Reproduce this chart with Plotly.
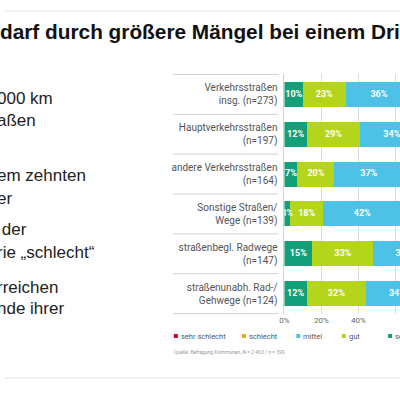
import plotly.graph_objects as go

# categories (top to bottom) as they appear on the slide
categories = ["Verkehrsstraßen<br>insg. (n=273)",
              "Hauptverkehrsstraßen<br>(n=197)",
              "andere Verkehrsstraßen<br>(n=164)",
              "Sonstige Straßen/<br>Wege (n=139)",
              "straßenbegl. Radwege<br>(n=147)",
              "straßenunabh. Rad-/<br>Gehwege (n=124)"]

# shares in percent, stacked left to right
sehr_gut = [10, 12, 7, 3, 15, 12]
gut = [23, 29, 20, 18, 33, 32]
mittel = [36, 34, 37, 42, 33, 34]
schlecht = [24, 19, 28, 28, 15, 17]
sehr_schlecht = [7, 6, 8, 9, 4, 5]

series = [("sehr gut", sehr_gut, "#12a07b"),
          ("gut", gut, "#b5d41c"),
          ("mittel", mittel, "#4cc3e6"),
          ("schlecht", schlecht, "#f5a623"),
          ("sehr schlecht", sehr_schlecht, "#d0021b")]

legend_order = ["sehr schlecht", "schlecht", "mittel", "gut", "sehr gut"]
x_ticks = [0, 20, 40, 60, 80, 100]

title = "darf durch größere Mängel bei einem Dri"
left_lines = ["000 km", "aßen", "em zehnten", "er", " der",
              "rie „schlecht“", "rreichen", "nde ihrer"]
source = "Quelle: Befragung Kommunen, N = 2 463 / n = 390"

fig = go.Figure()
base = [0] * len(categories)
for name, vals, col in series:
    fig.add_trace(go.Bar(
        y=categories, x=vals, name=name, orientation="h",
        marker=dict(color=col, line=dict(width=0)), showlegend=False,
        hoverinfo="skip"))
    # labels drawn on top of all bars, centred in each segment
    fig.add_trace(go.Scatter(
        y=categories, x=[b + v / 2 for b, v in zip(base, vals)],
        mode="text", text=[f"{v}%" for v in vals], showlegend=False,
        textfont=dict(family="Roboto", size=9, color="white", weight="bold"),
        hoverinfo="skip"))
    base = [b + v for b, v in zip(base, vals)]

fig.update_layout(
    width=400, height=400, margin=dict(l=0, r=0, t=0, b=0),
    paper_bgcolor="white", plot_bgcolor="white",
    barmode="stack", bargap=0.375,
    xaxis=dict(domain=[0.7075, 1], range=[0, 62.4], tickvals=x_ticks,
               ticktext=[f"{t}%" for t in x_ticks],
               showgrid=True, gridcolor="#dadada", gridwidth=1,
               zeroline=False, showline=False, ticks="",
               tickfont=dict(family="Roboto", size=8, color="#666")),
    yaxis=dict(domain=[0.215, 0.815], autorange="reversed",
               showline=True, linecolor="#cfcfcf", linewidth=1,
               showgrid=False, ticks="", ticklabelstandoff=4,
               tickfont=dict(family="Roboto", size=10, color="#555")),
)

# separator lines between category labels
for k in range(len(categories) + 1):
    fig.add_shape(type="line", xref="paper", yref="y",
                  x0=170 / 400, x1=277 / 400, y0=k - 0.5, y1=k - 0.5,
                  line=dict(color="#d4d4d4", width=1))

# slide frame lines
for yy in [389 / 400, 22 / 400]:
    fig.add_shape(type="line", xref="paper", yref="paper", x0=0, x1=1,
                  y0=yy, y1=yy, line=dict(color="#dde7f2", width=1))

# title
fig.add_annotation(text=f"<b>{title}</b>", xref="paper", yref="paper",
                   x=-7 / 400, y=1 - 31 / 400, xanchor="left", yanchor="middle",
                   showarrow=False,
                   font=dict(family="Liberation Sans", size=20.8, color="#111"))

# slide body text (cut at the left)
left_y = [98, 120, 175, 198, 230, 253, 287, 308]
for line, yy in zip(left_lines, left_y):
    fig.add_annotation(text=line, xref="paper", yref="paper",
                       x=-10 / 400, y=1 - yy / 400, xanchor="left", yanchor="middle",
                       showarrow=False,
                       font=dict(family="Liberation Sans", size=17, color="#222"))

# legend row
colors = {n: c for n, _, c in series}
legend_x = [173, 242, 297, 343, 390]
for name, lx in zip(legend_order, legend_x):
    fig.add_shape(type="rect", xref="paper", yref="paper",
                  x0=(lx - 2) / 400, x1=(lx + 2) / 400,
                  y0=1 - 338 / 400, y1=1 - 334 / 400,
                  fillcolor=colors[name], line=dict(width=0))
    fig.add_annotation(text=name, xref="paper", yref="paper",
                       x=(lx + 3) / 400, y=1 - 336 / 400,
                       xanchor="left", yanchor="middle", showarrow=False,
                       font=dict(family="Roboto", size=7.5, color="#555"))

fig.add_annotation(text=source, xref="paper", yref="paper",
                   x=169 / 400, y=1 - 352 / 400, xanchor="left",
                   yanchor="middle", showarrow=False,
                   font=dict(family="Roboto", size=5, color="#999"))

fig.write_html("out.html", config={"displayModeBar": False})

# drop the default page margin so the figure fills the window
with open("out.html", encoding="utf-8") as f:
    html = f.read()
html = html.replace("<head>", "<head><style>body{margin:0;overflow:hidden}</style>", 1)
with open("out.html", "w", encoding="utf-8") as f:
    f.write(html)
